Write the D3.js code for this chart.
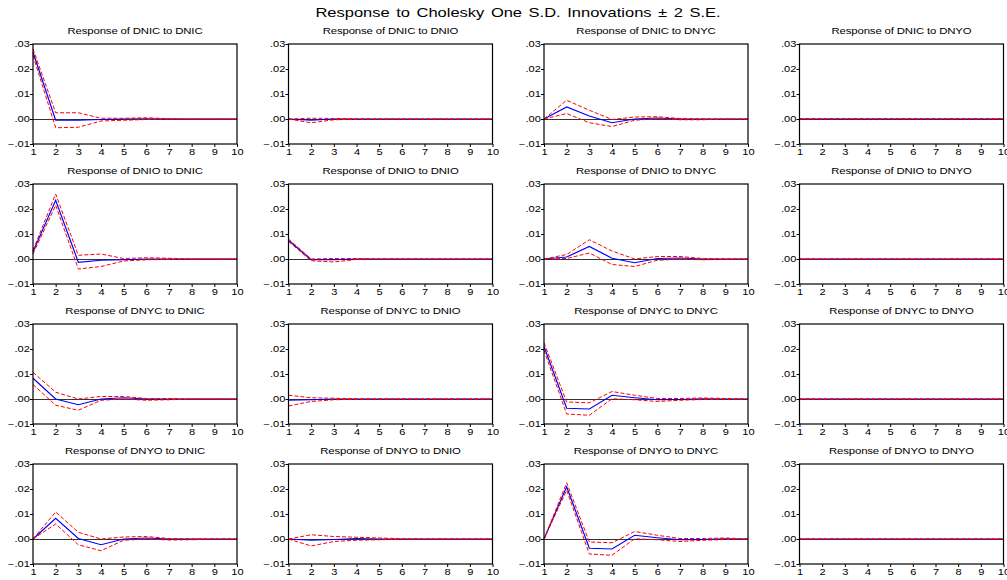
<!DOCTYPE html>
<html>
<head>
<meta charset="utf-8">
<script src="https://cdn.jsdelivr.net/npm/d3@7"></script>
<style>
  body { margin: 0; background: #fff; }
  svg { display: block; font-family: "Liberation Sans", Arial, sans-serif; }
</style>
</head>
<body>
<div id="chart"></div>
<script>
// variables of the VAR, in Cholesky order
const variables = ["DNIC", "DNIO", "DNYC", "DNYO"];
const periods = [1, 2, 3, 4, 5, 6, 7, 8, 9, 10];
const yTicks = [-0.01, 0.00, 0.01, 0.02, 0.03];

// impulse responses, one row per panel (response of row var to column var)
const response = [
  [0.0267, -0.0005, -0.0005, -0.0002, 0.0000, 0.0001, 0.0000, 0.0000, 0.0000, 0.0000], // DNIC <- DNIC
  [0.0000, -0.0005, 0.0000, 0.0000, 0.0000, 0.0000, 0.0000, 0.0000, 0.0000, 0.0000],   // DNIC <- DNIO
  [0.0000, 0.0048, 0.0012, -0.0015, 0.0000, 0.0004, 0.0000, 0.0000, 0.0000, 0.0000],   // DNIC <- DNYC
  [0.0000, 0.0000, 0.0000, 0.0000, 0.0000, 0.0000, 0.0000, 0.0000, 0.0000, 0.0000],    // DNIC <- DNYO
  [0.0029, 0.0235, -0.0013, -0.0005, -0.0003, 0.0000, 0.0000, 0.0000, 0.0000, 0.0000], // DNIO <- DNIC
  [0.0075, -0.0003, -0.0003, 0.0000, 0.0000, 0.0000, 0.0000, 0.0000, 0.0000, 0.0000],  // DNIO <- DNIO
  [0.0000, 0.0008, 0.0050, 0.0003, -0.0015, 0.0002, 0.0004, 0.0000, 0.0000, 0.0000],   // DNIO <- DNYC
  [0.0000, 0.0000, 0.0000, 0.0000, 0.0000, 0.0000, 0.0000, 0.0000, 0.0000, 0.0000],    // DNIO <- DNYO
  [0.0083, 0.0000, -0.0023, 0.0000, 0.0005, 0.0000, 0.0000, 0.0000, 0.0000, 0.0000],   // DNYC <- DNIC
  [-0.0005, -0.0003, 0.0000, 0.0000, 0.0000, 0.0000, 0.0000, 0.0000, 0.0000, 0.0000],  // DNYC <- DNIO
  [0.0210, -0.0037, -0.0040, 0.0015, 0.0005, -0.0003, -0.0002, 0.0001, 0.0000, 0.0000], // DNYC <- DNYC
  [0.0000, 0.0000, 0.0000, 0.0000, 0.0000, 0.0000, 0.0000, 0.0000, 0.0000, 0.0000],    // DNYC <- DNYO
  [0.0000, 0.0083, 0.0002, -0.0023, 0.0000, 0.0004, 0.0000, 0.0000, 0.0000, 0.0000],   // DNYO <- DNIC
  [0.0000, -0.0005, -0.0002, 0.0002, 0.0000, 0.0000, 0.0000, 0.0000, 0.0000, 0.0000],  // DNYO <- DNIO
  [0.0000, 0.0209, -0.0037, -0.0040, 0.0015, 0.0005, -0.0003, -0.0002, 0.0001, 0.0000], // DNYO <- DNYC
  [0.0000, 0.0000, 0.0000, 0.0000, 0.0000, 0.0000, 0.0000, 0.0000, 0.0000, 0.0000]     // DNYO <- DNYO
];

// +2 S.E. band
const upperBand = [
  [0.0280, 0.0025, 0.0025, 0.0003, 0.0003, 0.0005, 0.0001, 0.0000, 0.0000, 0.0000],
  [0.0000, 0.0003, 0.0002, 0.0001, 0.0000, 0.0000, 0.0000, 0.0000, 0.0000, 0.0000],
  [0.0000, 0.0075, 0.0035, -0.0002, 0.0008, 0.0009, 0.0002, 0.0001, 0.0000, 0.0000],
  [0.0002, 0.0002, 0.0002, 0.0002, 0.0002, 0.0002, 0.0002, 0.0002, 0.0002, 0.0002],
  [0.0035, 0.0260, 0.0015, 0.0020, 0.0002, 0.0005, 0.0003, 0.0000, 0.0000, 0.0000],
  [0.0080, 0.0000, 0.0002, 0.0002, 0.0000, 0.0000, 0.0000, 0.0000, 0.0000, 0.0000],
  [0.0000, 0.0018, 0.0077, 0.0032, 0.0000, 0.0010, 0.0010, 0.0002, 0.0001, 0.0000],
  [0.0000, 0.0000, 0.0000, 0.0000, 0.0000, 0.0000, 0.0000, 0.0000, 0.0000, 0.0000],
  [0.0107, 0.0027, 0.0000, 0.0010, 0.0010, 0.0002, 0.0002, 0.0000, 0.0000, 0.0000],
  [0.0015, 0.0005, 0.0003, 0.0001, 0.0000, 0.0000, 0.0000, 0.0000, 0.0000, 0.0000],
  [0.0225, -0.0012, -0.0015, 0.0030, 0.0015, 0.0002, 0.0002, 0.0004, 0.0002, 0.0000],
  [0.0000, 0.0000, 0.0000, 0.0000, 0.0000, 0.0000, 0.0000, 0.0000, 0.0000, 0.0000],
  [0.0000, 0.0108, 0.0027, 0.0000, 0.0008, 0.0010, 0.0002, 0.0001, 0.0000, 0.0000],
  [0.0000, 0.0017, 0.0010, 0.0007, 0.0004, 0.0001, 0.0000, 0.0000, 0.0000, 0.0000],
  [0.0000, 0.0225, -0.0012, -0.0015, 0.0030, 0.0015, 0.0002, 0.0002, 0.0004, 0.0000],
  [0.0000, 0.0000, 0.0000, 0.0000, 0.0000, 0.0000, 0.0000, 0.0000, 0.0000, 0.0000]
];

// -2 S.E. band
const lowerBand = [
  [0.0254, -0.0035, -0.0033, -0.0008, -0.0005, -0.0002, 0.0000, 0.0000, 0.0000, 0.0000],
  [0.0000, -0.0015, -0.0003, -0.0001, 0.0000, 0.0000, 0.0000, 0.0000, 0.0000, 0.0000],
  [0.0000, 0.0022, -0.0015, -0.0030, -0.0005, 0.0001, -0.0003, -0.0003, 0.0000, 0.0000],
  [0.0000, 0.0000, 0.0000, 0.0000, 0.0000, 0.0000, 0.0000, 0.0000, 0.0000, 0.0000],
  [0.0020, 0.0215, -0.0040, -0.0030, -0.0008, -0.0003, -0.0002, 0.0000, 0.0000, 0.0000],
  [0.0070, -0.0007, -0.0012, -0.0002, 0.0000, 0.0000, 0.0000, 0.0000, 0.0000, 0.0000],
  [0.0000, 0.0002, 0.0024, -0.0022, -0.0030, -0.0005, -0.0001, -0.0003, -0.0002, 0.0000],
  [0.0000, 0.0000, 0.0000, 0.0000, 0.0000, 0.0000, 0.0000, 0.0000, 0.0000, 0.0000],
  [0.0058, -0.0025, -0.0045, -0.0005, 0.0000, -0.0005, -0.0003, 0.0000, 0.0000, 0.0000],
  [-0.0028, -0.0010, -0.0003, -0.0001, 0.0000, 0.0000, 0.0000, 0.0000, 0.0000, 0.0000],
  [0.0195, -0.0060, -0.0065, 0.0001, -0.0003, -0.0010, -0.0005, -0.0002, -0.0001, 0.0000],
  [0.0000, 0.0000, 0.0000, 0.0000, 0.0000, 0.0000, 0.0000, 0.0000, 0.0000, 0.0000],
  [0.0000, 0.0060, -0.0023, -0.0047, -0.0005, 0.0000, -0.0004, -0.0003, 0.0000, 0.0000],
  [0.0000, -0.0028, -0.0010, -0.0005, -0.0003, -0.0001, 0.0000, 0.0000, 0.0000, 0.0000],
  [0.0000, 0.0195, -0.0060, -0.0065, 0.0001, -0.0003, -0.0010, -0.0005, -0.0002, 0.0000],
  [0.0000, 0.0000, 0.0000, 0.0000, 0.0000, 0.0000, 0.0000, 0.0000, 0.0000, 0.0000]
];

const W = 1007, H = 580;
const panelW = 204, panelH = 100;
const colX = [33, 288.5, 544, 799.5];
const rowY = [44, 184, 324, 464];
const stretch = 1.32; // text in the source is drawn wide

const svg = d3.select("#chart").append("svg")
    .attr("width", W)
    .attr("height", H);

svg.append("text")
    .attr("transform", `translate(518,17) scale(${stretch},1)`)
    .attr("text-anchor", "middle")
    .attr("font-size", 12.5)
    .attr("word-spacing", 1.5)
    .text("Response to Cholesky One S.D. Innovations \u00b1 2 S.E.");

const x = d3.scaleLinear().domain([1, 10]).range([0, panelW]);
const y = d3.scaleLinear().domain([-0.01, 0.03]).range([panelH, 0]);

const fmt = d => d3.format(".2f")(d).replace("0.", ".");

const line = d3.line()
    .x((d, i) => x(periods[i]))
    .y(d => y(d));

variables.forEach((resp, r) => {
  variables.forEach((imp, c) => {
    const k = r * 4 + c;
    const g = svg.append("g")
        .attr("transform", `translate(${colX[c]},${rowY[r]})`);

    // title of each panel
    g.append("text")
        .attr("transform", `translate(${panelW / 2},-10) scale(${stretch},1)`)
        .attr("text-anchor", "middle")
        .attr("font-size", 8.6)
        .attr("letter-spacing", -0.1)
        .text(`Response of ${resp} to ${imp}`);

    // zero line
    g.append("line")
        .attr("x1", 0).attr("x2", panelW)
        .attr("y1", y(0) + 0.5).attr("y2", y(0) + 0.5)
        .attr("stroke", "#333")
        .attr("stroke-width", 1)
        .attr("shape-rendering", "crispEdges");

    g.append("path")
        .attr("d", line(response[k]))
        .attr("fill", "none")
        .attr("stroke", "#0000ff")
        .attr("stroke-width", 1.2);

    [upperBand[k], lowerBand[k]].forEach(band => {
      g.append("path")
          .attr("d", line(band))
          .attr("fill", "none")
          .attr("stroke", "#ff0000")
          .attr("stroke-width", 1)
          .attr("stroke-dasharray", "4,2");
    });

    // axes
    const ya = g.append("g")
        .call(d3.axisLeft(y).tickValues(yTicks).tickSize(3).tickFormat(fmt));
    ya.select(".domain").remove();
    ya.selectAll("text")
        .attr("x", -2.4)
        .attr("transform", `scale(${stretch},1)`)
        .attr("font-size", 8.4)
        .attr("font-family", null);

    const xa = g.append("g")
        .attr("transform", `translate(0,${panelH})`)
        .call(d3.axisBottom(x).tickValues(periods).tickSize(3).tickFormat(d3.format("d")));
    xa.select(".domain").remove();
    xa.selectAll("text")
        .attr("y", 5)
        .attr("transform", `scale(${stretch},1)`)
        .attr("font-size", 8.4)
        .attr("font-family", null);

    g.append("rect")
        .attr("width", panelW)
        .attr("height", panelH)
        .attr("fill", "none")
        .attr("stroke", "#000")
        .attr("stroke-width", 1.2);
  });
});
</script>
</body>
</html>
